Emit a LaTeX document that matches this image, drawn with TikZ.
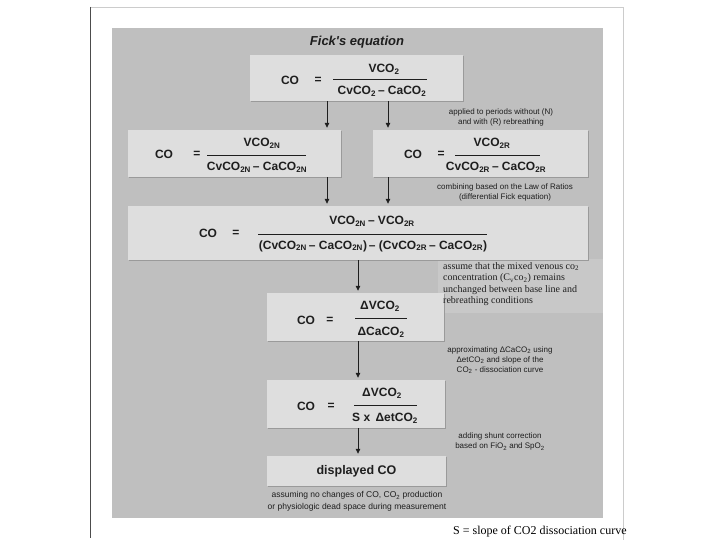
\documentclass[tikz,border=0pt]{standalone}
\usepackage{fontspec}
\setmainfont{Liberation Serif}
\newfontfamily\arial{Liberation Sans}
\usetikzlibrary{arrows.meta,shadows}
\definecolor{panel}{HTML}{BFBFBF}
\definecolor{panellight}{HTML}{C8C8C8}
\definecolor{boxfill}{HTML}{DEDEDE}
\definecolor{shadowc}{HTML}{9A9A9A}
\definecolor{ink}{HTML}{1E1E1E}
\begin{document}
\begin{tikzpicture}[x=1pt,y=-1pt,
  box/.style={fill=boxfill, inner sep=0pt,
    drop shadow={shadow xshift=1.4pt, shadow yshift=-1.4pt, fill=shadowc, opacity=1}},
  eq/.style={font=\arial\bfseries\fontsize{12}{14}\selectfont, inner sep=0pt, text=ink},
  note/.style={font=\arial\fontsize{8}{10}\selectfont, align=center, inner sep=0pt, text=ink},
  arr/.style={draw=ink, line width=0.8pt, -{Triangle[length=5pt,width=4.5pt]}, shorten >=2pt},
  fbar/.style={draw=ink, line width=0.8pt}]
\useasboundingbox (0,0) rectangle (720,540);
\fill[white] (0,0) rectangle (720,540);
% frame
\draw[black!20, line width=0.8pt] (90,7) -- (623,7) -- (623,540);
\draw[black!70, line width=1.2pt] (90.5,7) -- (90.5,538);
% panel
\fill[panel] (112,28) rectangle (603,518);
\fill[panellight] (438,259) rectangle (603,313);
% title
\node[font=\arial\bfseries\itshape\fontsize{13}{15}\selectfont, text=ink] (title) at (357,42) {Fick's equation};
% boxes
\node[box, minimum width=213pt, minimum height=46pt] (fick) at (356.5,78) {};
\node[box, minimum width=213pt, minimum height=47pt] (boxN) at (234.5,153.5) {};
\node[box, minimum width=215pt, minimum height=47pt] (boxR) at (480.5,153.5) {};
\node[box, minimum width=460pt, minimum height=54pt] (wide) at (358,233) {};
\node[box, minimum width=177pt, minimum height=48pt] (dbox) at (355.5,317) {};
\node[box, minimum width=178pt, minimum height=48pt] (sbox) at (356,404) {};
\node[box, minimum width=179pt, minimum height=30pt] (disp) at (356.5,471) {};
% arrow columns
\coordinate (a1) at (327,0);
\coordinate (a2) at (388,0);
\coordinate (a3) at (358,0);
\draw[arr] (fick.south -| a1) -- (boxN.north -| a1);
\draw[arr] (fick.south -| a2) -- (boxR.north -| a2);
\draw[arr] (boxN.south -| a1) -- (wide.north -| a1);
\draw[arr] (boxR.south -| a2) -- (wide.north -| a2);
\draw[arr] (wide.south -| a3) -- (dbox.north -| a3);
\draw[arr] (dbox.south -| a3) -- (sbox.north -| a3);
\draw[arr] (sbox.south -| a3) -- (disp.north -| a3);
% Fick box
\node[eq] (fco) at (290,80) {CO};
\node[eq] (feq) at (318,80) {=};
\node[eq] (fnum) at (384,69) {VCO\textsubscript{2}};
\node[eq] (fden) at (382,91) {CvCO\textsubscript{2}\,– CaCO\textsubscript{2}};
\coordinate (fb1) at (333,79); \coordinate (fb2) at (427,79);
\draw[fbar] (fb1) -- (fb2);
% N box
\node[eq] (nco) at (164,154) {CO};
\node[eq] (neq) at (197,154) {=};
\node[eq] (nnum) at (262,143) {VCO\textsubscript{2N}};
\node[eq] (nden) at (257,167) {CvCO\textsubscript{2N}\,– CaCO\textsubscript{2N}};
\coordinate (nb1) at (207,155); \coordinate (nb2) at (306,155);
\draw[fbar] (nb1) -- (nb2);
% R box
\node[eq] (rco) at (413,154) {CO};
\node[eq] (req) at (441,154) {=};
\node[eq] (rnum) at (492,143) {VCO\textsubscript{2R}};
\node[eq] (rden) at (496,167) {CvCO\textsubscript{2R}\,– CaCO\textsubscript{2R}};
\coordinate (rb1) at (455,155); \coordinate (rb2) at (540,155);
\draw[fbar] (rb1) -- (rb2);
% wide box
\node[eq] (wco) at (208,233) {CO};
\node[eq] (weq) at (236,233) {=};
\node[eq] (wnum) at (372,221) {VCO\textsubscript{2N}\,– VCO\textsubscript{2R}};
\node[eq] (wden) at (373,246) {(CvCO\textsubscript{2N}\,– CaCO\textsubscript{2N})\,– (CvCO\textsubscript{2R}\,– CaCO\textsubscript{2R})};
\coordinate (wb1) at (258,234); \coordinate (wb2) at (487,234);
\draw[fbar] (wb1) -- (wb2);
% delta box
\node[eq] (dco) at (306,320) {CO};
\node[eq] (deq) at (330,320) {=};
\node[eq] (dnum) at (380,306) {ΔVCO\textsubscript{2}};
\node[eq] (dden) at (381,332) {ΔCaCO\textsubscript{2}};
\coordinate (db1) at (355,318); \coordinate (db2) at (407,318);
\draw[fbar] (db1) -- (db2);
% S box
\node[eq] (sco) at (306,406) {CO};
\node[eq] (seq) at (331,406) {=};
\node[eq] (snum) at (382,393) {ΔVCO\textsubscript{2}};
\node[eq] (sden) at (385,418) {S x \,ΔetCO\textsubscript{2}};
\coordinate (sb1) at (354,405); \coordinate (sb2) at (417,405);
\draw[fbar] (sb1) -- (sb2);
% displayed
\node[eq, font=\arial\bfseries\fontsize{12.5}{14}\selectfont] (dtxt) at (disp.center) {displayed CO};
% notes
\node[note] (n1) at (501,117) {applied to periods without (N)\\and with (R) rebreathing};
\node[note] (n2) at (505,192.5) {combining based on the Law of Ratios\\(differential Fick equation)};
\node[note] (n3) at (500,360) {approximating ΔCaCO\textsubscript{2} using\\ΔetCO\textsubscript{2} and slope of the\\CO\textsubscript{2} - dissociation curve};
\node[note] (n4) at (500,441.5) {adding shunt correction\\based on FiO\textsubscript{2} and SpO\textsubscript{2}};
\node[note, font=\arial\fontsize{8.5}{11.5}\selectfont] (n5) at (357,501.5) {assuming no changes of CO, CO\textsubscript{2} production\\or physiologic dead space during measurement};
\node[anchor=north west, align=left, inner sep=0pt, text=ink, font=\fontsize{10}{11.6}\selectfont] (n6) at (443,262)
  {assume that the mixed venous co\textsubscript{2}\\concentration (C\textsubscript{v}co\textsubscript{2}) remains\\unchanged between base line and\\rebreathing conditions};
\node[anchor=base west, inner sep=0pt, text=black, font=\fontsize{12}{14}\selectfont] (snote) at (453,534) {S = slope of CO2 dissociation curve};
\end{tikzpicture}
\end{document}
